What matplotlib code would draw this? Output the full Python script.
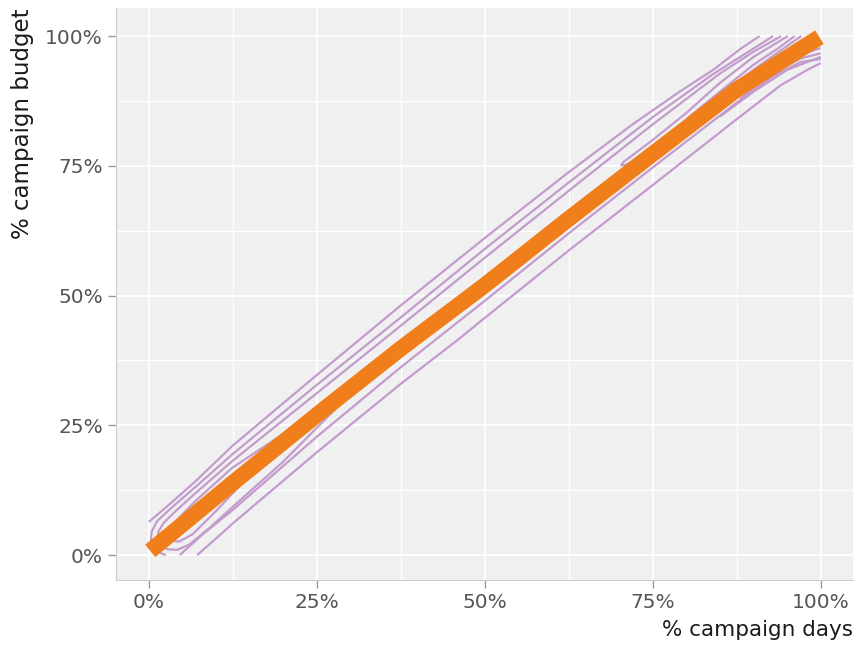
import matplotlib
matplotlib.use("Agg")
import matplotlib.pyplot as plt
from matplotlib.ticker import MultipleLocator, FuncFormatter

plt.rcParams['font.family'] = ['DejaVu Sans']

# orange trend line (share of days vs share of budget)
trend_x = [0.002, 0.124, 0.25, 0.374, 0.5, 0.624, 0.75, 0.875, 0.998]
trend_y = [0.008, 0.138, 0.27, 0.397, 0.520, 0.647, 0.773, 0.897, 0.998]

# density contour lines
contour_x = [
    [0.0, 0.03, 0.07, 0.124, 0.25, 0.374, 0.5, 0.624, 0.72, 0.79, 0.84, 0.88, 0.909],
    [0.025, 0.015, 0.007, 0.003, 0.004, 0.012, 0.03, 0.07, 0.124, 0.25, 0.374, 0.5, 0.624, 0.75, 0.84, 0.89, 0.929],
    [0.941, 0.90, 0.85, 0.75, 0.624, 0.5, 0.374, 0.25, 0.124, 0.07, 0.04, 0.022, 0.014, 0.013, 0.018, 0.028, 0.042, 0.06, 0.09, 0.124, 0.2, 0.33],
    [0.3, 0.124, 0.07, 0.045, 0.032, 0.028, 0.033, 0.045, 0.065, 0.10, 0.14],
    [0.072, 0.10, 0.124, 0.25, 0.374, 0.46, 0.5, 0.624, 0.75, 0.875, 0.94, 0.98, 1.0],
    [0.046, 0.08, 0.124, 0.25, 0.374, 0.5, 0.624, 0.75, 0.875, 0.93, 0.97, 1.0],
    [0.76, 0.71, 0.703, 0.706, 0.75, 0.80, 0.85, 0.90, 0.951],
    [0.80, 0.85, 0.90, 0.935, 0.961],
    [0.86, 0.90, 0.94, 0.971],
    [0.85, 0.90, 0.95, 1.0],
    [0.88, 0.93, 0.97, 1.0],
    [0.92, 0.96, 1.0],
    [0.95, 0.975, 1.0],
]
contour_y = [
    [0.064, 0.097, 0.143, 0.210, 0.347, 0.480, 0.611, 0.737, 0.830, 0.893, 0.935, 0.975, 1.0],
    [0.0, 0.005, 0.014, 0.028, 0.045, 0.065, 0.087, 0.132, 0.194, 0.328, 0.457, 0.590, 0.717, 0.844, 0.927, 0.968, 1.0],
    [1.0, 0.970, 0.928, 0.830, 0.701, 0.573, 0.441, 0.312, 0.181, 0.120, 0.085, 0.062, 0.045, 0.030, 0.018, 0.011, 0.010, 0.020, 0.052, 0.092, 0.180, 0.35],
    [0.32, 0.168, 0.105, 0.072, 0.052, 0.038, 0.028, 0.026, 0.040, 0.085, 0.14],
    [0.0, 0.032, 0.060, 0.198, 0.329, 0.415, 0.457, 0.586, 0.713, 0.840, 0.905, 0.935, 0.948],
    [0.0, 0.04, 0.086, 0.228, 0.361, 0.490, 0.619, 0.747, 0.872, 0.924, 0.950, 0.956],
    [0.785, 0.752, 0.751, 0.757, 0.80, 0.852, 0.91, 0.96, 1.0],
    [0.84, 0.893, 0.945, 0.975, 1.0],
    [0.895, 0.935, 0.972, 1.0],
    [0.845, 0.893, 0.935, 0.960],
    [0.88, 0.93, 0.957, 0.967],
    [0.925, 0.96, 0.977],
    [0.955, 0.975, 0.983],
]

ticks = [0, 0.25, 0.5, 0.75, 1.0]

fig = plt.figure(figsize=(8.59, 6.48), dpi=100)
ax = fig.add_axes([0.135, 0.105, 0.858, 0.8825])
ax.set_facecolor('#f0f0f0')

for cx, cy in zip(contour_x, contour_y):
    ax.plot(cx, cy, color='#c39bcd', lw=1.6, solid_capstyle='butt',
            solid_joinstyle='round', zorder=2)

ax.plot(trend_x, trend_y, color='#f07e1a', lw=11.5, solid_capstyle='butt', zorder=3)

ax.set_xlim(-0.049, 1.048)
ax.set_ylim(-0.048, 1.054)
ax.set_xticks(ticks)
ax.set_yticks(ticks)
ax.xaxis.set_minor_locator(MultipleLocator(0.125))
ax.yaxis.set_minor_locator(MultipleLocator(0.125))
pct = FuncFormatter(lambda v, _: f"{v * 100:.0f}%")
ax.xaxis.set_major_formatter(pct)
ax.yaxis.set_major_formatter(pct)

ax.grid(which='major', color='white', lw=1.3)
ax.grid(which='minor', color='white', lw=0.9)
ax.set_axisbelow(True)
ax.tick_params(which='major', length=6, width=1, color='#999999',
               labelcolor='#555555', labelsize=14.5)
ax.tick_params(which='minor', length=0)

for side in ['top', 'right']:
    ax.spines[side].set_visible(False)
for side in ['left', 'bottom']:
    ax.spines[side].set_color('#cccccc')

ax.set_xlabel('% campaign days', fontsize=15.5, loc='right', color='#1a1a1a', labelpad=6)
ax.set_ylabel('% campaign budget', fontsize=16.5, loc='top', color='#1a1a1a', labelpad=8)

fig.savefig('out.png', dpi=100)
